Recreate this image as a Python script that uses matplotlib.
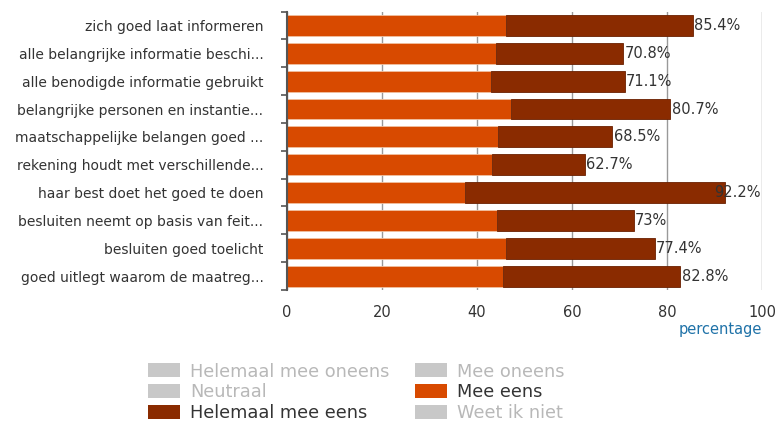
import matplotlib.pyplot as plt
import numpy as np
from matplotlib.patches import Patch

categories = ["zich goed laat informeren",
              "alle belangrijke informatie beschi...",
              "alle benodigde informatie gebruikt",
              "belangrijke personen en instantie...",
              "maatschappelijke belangen goed ...",
              "rekening houdt met verschillende...",
              "haar best doet het goed te doen",
              "besluiten neemt op basis van feit...",
              "besluiten goed toelicht",
              "goed uitlegt waarom de maatreg..."]
mee_eens = [46.1, 44.0, 43.0, 47.2, 44.4, 43.2, 37.5, 44.2, 46.1, 45.5]
totaal = [85.4, 70.8, 71.1, 80.7, 68.5, 62.7, 92.2, 73.0, 77.4, 82.8]
totaal_labels = ["85.4%", "70.8%", "71.1%", "80.7%", "68.5%",
                 "62.7%", "92.2%", "73%", "77.4%", "82.8%"]
helemaal = [t - m for t, m in zip(totaal, mee_eens)]

legend_labels = ["Helemaal mee oneens", "Neutraal", "Helemaal mee eens",
                 "Mee oneens", "Mee eens", "Weet ik niet"]

orange = "#d84a00"
dark = "#8a2b00"
grey = "#c8c8c8"
legend_colors = [grey, grey, dark, grey, orange, grey]
text_grey = "#333333"

fig = plt.figure(figsize=(7.8, 4.23), dpi=100)
ax = fig.add_axes([0.368, 0.3144, 0.609, 0.6582])

y = np.arange(len(categories))
ax.barh(y, mee_eens, height=0.75, color=orange, edgecolor="#f0c0a0", linewidth=0.6, zorder=2)
ax.barh(y, helemaal, left=mee_eens, height=0.75, color=dark, edgecolor="#6a2000", linewidth=0.6, zorder=2)

for i, (t, lab) in enumerate(zip(totaal, totaal_labels)):
    ax.text(min(t + 0.3, 90.0), i, lab, va="center", ha="left", fontsize=10.5, color=text_grey, zorder=3)

ax.set_xlim(0, 100)
ax.set_ylim(len(categories) - 0.5, -0.5)
ax.set_xticks([0, 20, 40, 60, 80, 100])
ax.tick_params(axis="x", length=0, pad=11, labelsize=10.5, labelcolor=text_grey)
ax.set_yticks(y)
ax.set_yticklabels(categories, fontsize=10, color=text_grey)
ax.set_yticks(np.arange(-0.5, len(categories)), minor=True)
ax.tick_params(axis="y", which="major", length=0, pad=17)
ax.tick_params(axis="y", which="minor", length=4, width=1.2, color="#555555")
ax.grid(axis="x", color="#999999", linewidth=1, zorder=0)
ax.set_axisbelow(True)
for s in ["top", "right", "bottom"]:
    ax.spines[s].set_visible(False)
ax.spines["left"].set_color("#555555")
ax.spines["left"].set_linewidth(1.5)

fig.text(0.977, 0.22, "percentage", color="#1f72a8", fontsize=10.5, ha="right", va="center")

handles = [Patch(facecolor=c, edgecolor="none") for c in legend_colors]
leg = fig.legend(handles, legend_labels, ncol=2, loc="upper left",
                 bbox_to_anchor=(0.19, 0.143), frameon=False, fontsize=12.8,
                 handlelength=1.8, handleheight=0.85, handletextpad=0.55,
                 labelspacing=0.16, columnspacing=1.45, borderaxespad=0, borderpad=0)
for txt, c in zip(leg.get_texts(), legend_colors):
    txt.set_color(text_grey if c != grey else "#b8b8b8")

fig.savefig("out.png", dpi=100)
